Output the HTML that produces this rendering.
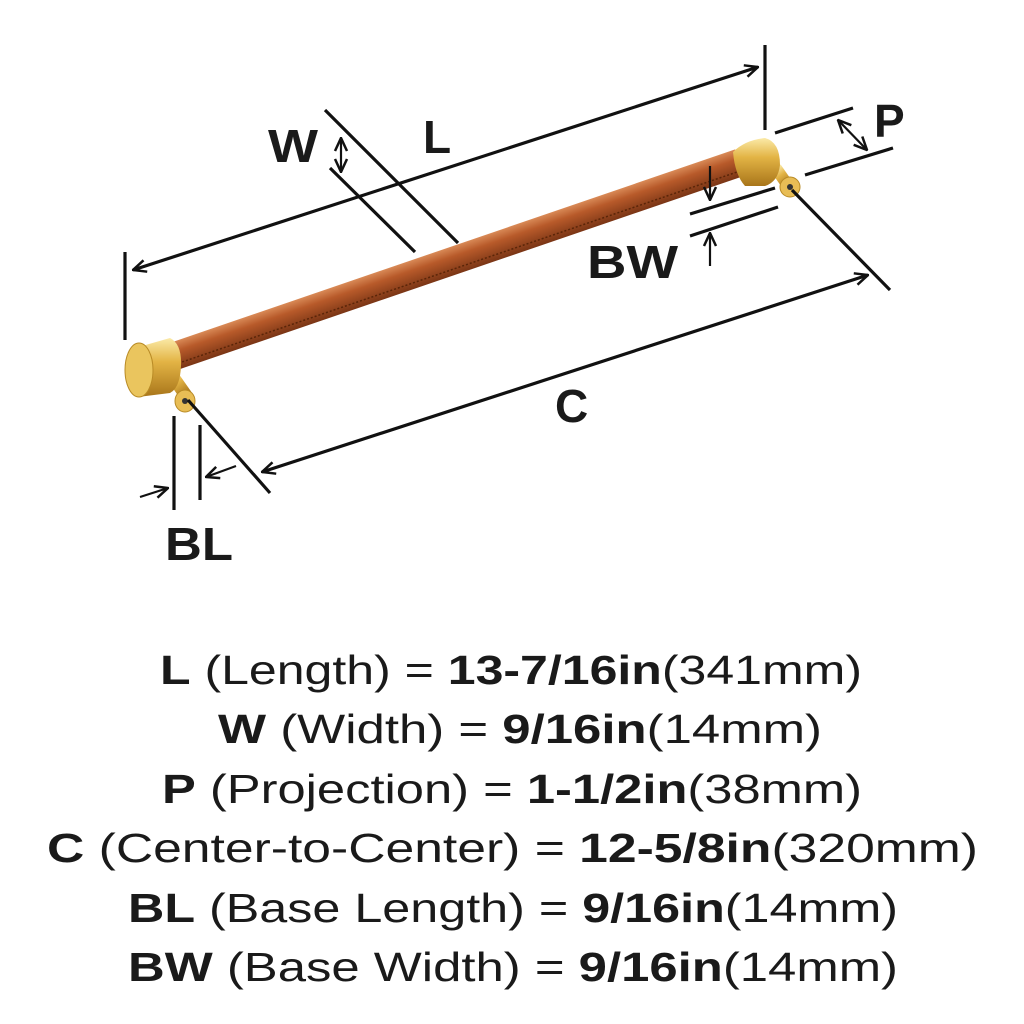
<!DOCTYPE html>
<html><head><style>
html,body{margin:0;padding:0;background:#fff;}
svg{display:block}
.t{font-family:"Liberation Sans",sans-serif;font-size:40px;fill:#1a1a1a}
.b{font-weight:bold}
</style></head><body>
<svg width="1024" height="1024" viewBox="0 0 1024 1024" xmlns="http://www.w3.org/2000/svg">
<defs>
<linearGradient id="leather" x1="0" y1="0" x2="0" y2="1">
<stop offset="0" stop-color="#d98a57"/><stop offset="0.35" stop-color="#b85a2a"/><stop offset="1" stop-color="#7a3515"/>
</linearGradient>
<linearGradient id="gold" x1="0" y1="0" x2="0" y2="1">
<stop offset="0" stop-color="#fbeaa8"/><stop offset="0.4" stop-color="#e3b445"/><stop offset="1" stop-color="#a8751a"/>
</linearGradient>
<marker id="ah" viewBox="0 0 16 16" refX="15" refY="8" markerWidth="16" markerHeight="16" markerUnits="userSpaceOnUse" orient="auto-start-reverse">
<path d="M2,2 L15,8 L2,14" fill="none" stroke="#111" stroke-width="2.5"/>
</marker>
</defs>
<g transform="translate(172,357) rotate(-18.9)">
<rect x="0" y="-14" width="600" height="28" fill="url(#leather)"/>
<line x1="0" y1="8" x2="600" y2="8" stroke="#5a2508" stroke-width="1.5" stroke-dasharray="2 2"/>
</g>
<!-- left cap -->
<rect x="172" y="372" width="13" height="26" fill="url(#gold)" transform="rotate(-35 178 385)"/>
<path d="M135,348 L170,338 Q182,344 181,366 Q180,388 170,393 L138,397 Z" fill="url(#gold)"/>
<ellipse cx="139" cy="370" rx="14" ry="27" fill="#eac55e" stroke="#b88a25"/>
<ellipse cx="185" cy="401" rx="10" ry="11" fill="#e8bd55" stroke="#b88a25"/>
<circle cx="185" cy="401" r="3" fill="#333"/>
<!-- right cap -->
<rect x="776" y="166" width="12" height="22" fill="url(#gold)" transform="rotate(-35 782 177)"/>
<path d="M733,152 Q745,140 765,138 Q780,142 780,165 Q778,182 765,186 L745,186 Q735,175 733,152 Z" fill="url(#gold)"/>
<ellipse cx="790" cy="187" rx="10" ry="10" fill="#e8bd55" stroke="#b88a25"/>
<circle cx="790" cy="187" r="3" fill="#333"/>
<g stroke="#111" stroke-width="3.2" fill="none">
<line x1="125" y1="252" x2="125" y2="340"/>
<line x1="765" y1="45" x2="765" y2="130"/>
<line x1="133" y1="270" x2="758" y2="67" marker-start="url(#ah)" marker-end="url(#ah)"/>
<line x1="325" y1="110" x2="458" y2="243"/>
<line x1="330" y1="168" x2="415" y2="252"/>
<line x1="341" y1="138" x2="341" y2="172" stroke-width="2.2" marker-start="url(#ah)" marker-end="url(#ah)"/>
<line x1="775" y1="133" x2="853" y2="108"/>
<line x1="805" y1="175" x2="893" y2="148"/>
<line x1="838" y1="120" x2="867" y2="150" stroke-width="2.2" marker-start="url(#ah)" marker-end="url(#ah)"/>
<line x1="690" y1="214" x2="775" y2="188"/>
<line x1="690" y1="236" x2="778" y2="207"/>
<line x1="710" y1="166" x2="710" y2="200" stroke-width="2.2" marker-end="url(#ah)"/>
<line x1="710" y1="266" x2="710" y2="233" stroke-width="2.2" marker-end="url(#ah)"/>
<line x1="792" y1="190" x2="890" y2="290"/>
<line x1="188" y1="400" x2="270" y2="493"/>
<line x1="262" y1="472" x2="868" y2="275" marker-start="url(#ah)" marker-end="url(#ah)"/>
<line x1="174" y1="416" x2="174" y2="510"/>
<line x1="200" y1="425" x2="200" y2="500"/>
<line x1="140" y1="497" x2="168" y2="488" stroke-width="2.2" marker-end="url(#ah)"/>
<line x1="236" y1="466" x2="206" y2="477" stroke-width="2.2" marker-end="url(#ah)"/>
</g>
<g class="t b" style="font-size:46px">
<text x="268" y="162" textLength="50" lengthAdjust="spacingAndGlyphs">W</text>
<text x="423" y="153">L</text>
<text x="874" y="137">P</text>
<text x="587" y="278" textLength="91" lengthAdjust="spacingAndGlyphs">BW</text>
<text x="555" y="422">C</text>
<text x="165" y="560" textLength="68" lengthAdjust="spacingAndGlyphs">BL</text>
</g>
<g class="t" style="font-size:41px">
<text x="160" y="684" textLength="702" lengthAdjust="spacingAndGlyphs"><tspan class="b">L</tspan> (Length) = <tspan class="b">13-7/16in</tspan>(341mm)</text>
<text x="218" y="743" textLength="604" lengthAdjust="spacingAndGlyphs"><tspan class="b">W</tspan> (Width) = <tspan class="b">9/16in</tspan>(14mm)</text>
<text x="162" y="803" textLength="700" lengthAdjust="spacingAndGlyphs"><tspan class="b">P</tspan> (Projection) = <tspan class="b">1-1/2in</tspan>(38mm)</text>
<text x="47" y="862" textLength="931" lengthAdjust="spacingAndGlyphs"><tspan class="b">C</tspan> (Center-to-Center) = <tspan class="b">12-5/8in</tspan>(320mm)</text>
<text x="128" y="922" textLength="770" lengthAdjust="spacingAndGlyphs"><tspan class="b">BL</tspan> (Base Length) = <tspan class="b">9/16in</tspan>(14mm)</text>
<text x="128" y="981" textLength="770" lengthAdjust="spacingAndGlyphs"><tspan class="b">BW</tspan> (Base Width) = <tspan class="b">9/16in</tspan>(14mm)</text>
</g>
</svg>
</body></html>
